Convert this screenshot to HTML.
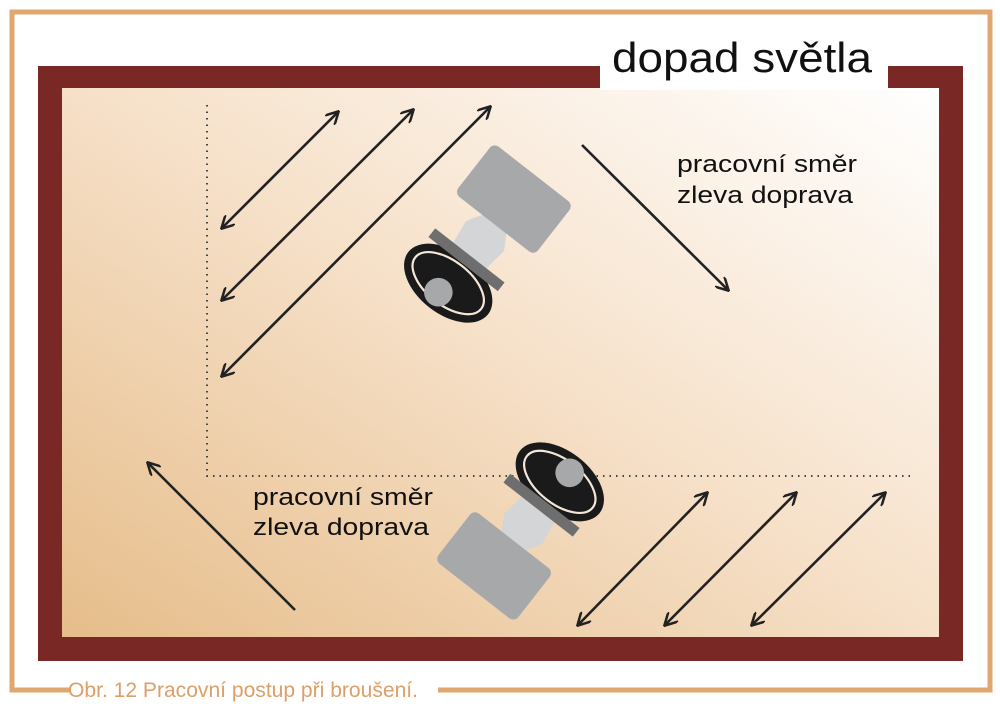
<!DOCTYPE html>
<html><head><meta charset="utf-8"><style>
html,body{margin:0;padding:0;background:#fff;}
svg{display:block;}
</style></head><body>
<svg width="1000" height="707" viewBox="0 0 1000 707" xmlns="http://www.w3.org/2000/svg" font-family="Liberation Sans, sans-serif">
<defs>
<linearGradient id="g" x1="0" y1="1" x2="1" y2="0">
<stop offset="0" stop-color="#e6bd8a"/>
<stop offset="0.55" stop-color="#f7e3cd"/>
<stop offset="1" stop-color="#ffffff"/>
</linearGradient>
<marker id="a" viewBox="0 0 14 14" refX="12" refY="7" markerWidth="14" markerHeight="14" markerUnits="userSpaceOnUse" orient="auto-start-reverse">
<path d="M0,0 L13,7 L0,14" fill="none" stroke="#222" stroke-width="2.5"/>
</marker>
</defs>
<path d="M70,690 L12,690 L12,12 L990,12 L990,690 L438,690" fill="none" stroke="#e0a870" stroke-width="5"/>
<text x="68" y="697" font-size="21" fill="#dc9f68" textLength="350" lengthAdjust="spacingAndGlyphs">Obr. 12  Pracovní postup při broušení.</text>
<rect x="38" y="66" width="925" height="595" fill="#7a2826"/>
<rect x="62" y="88" width="877" height="549" fill="url(#g)"/>
<rect x="600" y="38" width="288" height="52" fill="#fff"/>
<text x="612" y="72" font-size="42" fill="#111" textLength="260" lengthAdjust="spacingAndGlyphs">dopad světla</text>
<path d="M207,105 V476 H915" fill="none" stroke="#444" stroke-width="2" stroke-dasharray="1.5 5"/>
<g stroke="#222" stroke-width="2.6" fill="none">
<line x1="222" y1="228" x2="338" y2="112" marker-start="url(#a)" marker-end="url(#a)"/>
<line x1="222" y1="300" x2="413" y2="110" marker-start="url(#a)" marker-end="url(#a)"/>
<line x1="222" y1="376" x2="490" y2="107" marker-start="url(#a)" marker-end="url(#a)"/>
<line x1="582" y1="145" x2="728" y2="290" marker-end="url(#a)"/>
<line x1="295" y1="610" x2="148" y2="463" marker-end="url(#a)"/>
<line x1="578" y1="625" x2="707" y2="493" marker-start="url(#a)" marker-end="url(#a)"/>
<line x1="665" y1="625" x2="796" y2="493" marker-start="url(#a)" marker-end="url(#a)"/>
<line x1="752" y1="625" x2="885" y2="493" marker-start="url(#a)" marker-end="url(#a)"/>
</g>
<g font-size="24" fill="#111">
<text x="677" y="172" textLength="180" lengthAdjust="spacingAndGlyphs">pracovní směr</text>
<text x="677" y="203" textLength="176" lengthAdjust="spacingAndGlyphs">zleva doprava</text>
<text x="253" y="505" textLength="180" lengthAdjust="spacingAndGlyphs">pracovní směr</text>
<text x="253" y="535" textLength="176" lengthAdjust="spacingAndGlyphs">zleva doprava</text>
</g>
<g transform="translate(478,245) rotate(38) scale(1.1)">
<path d="M-22,-10 Q0,-55 22,-10 L18,20 L-18,20 Z" fill="#d4d5d7"/>
<rect x="-46" y="-82" width="92" height="58" rx="6" fill="#a7a8aa"/>
<ellipse cx="0" cy="44" rx="46" ry="28" fill="#1a1a1a"/>
<ellipse cx="0" cy="44" rx="38" ry="20" fill="none" stroke="#f5e7d8" stroke-width="2"/>
<rect x="-40" y="12" width="80" height="10" fill="#6e6e6e"/>
<circle cx="-2" cy="56" r="13" fill="#a7a8aa"/>
</g>
<g transform="translate(530,520) rotate(218) scale(1.1)">
<path d="M-22,-10 Q0,-55 22,-10 L18,20 L-18,20 Z" fill="#d4d5d7"/>
<rect x="-46" y="-82" width="92" height="58" rx="6" fill="#a7a8aa"/>
<ellipse cx="0" cy="44" rx="46" ry="28" fill="#1a1a1a"/>
<ellipse cx="0" cy="44" rx="38" ry="20" fill="none" stroke="#f5e7d8" stroke-width="2"/>
<rect x="-40" y="12" width="80" height="10" fill="#6e6e6e"/>
<circle cx="-2" cy="56" r="13" fill="#a7a8aa"/>
</g>
</svg>
</body></html>
